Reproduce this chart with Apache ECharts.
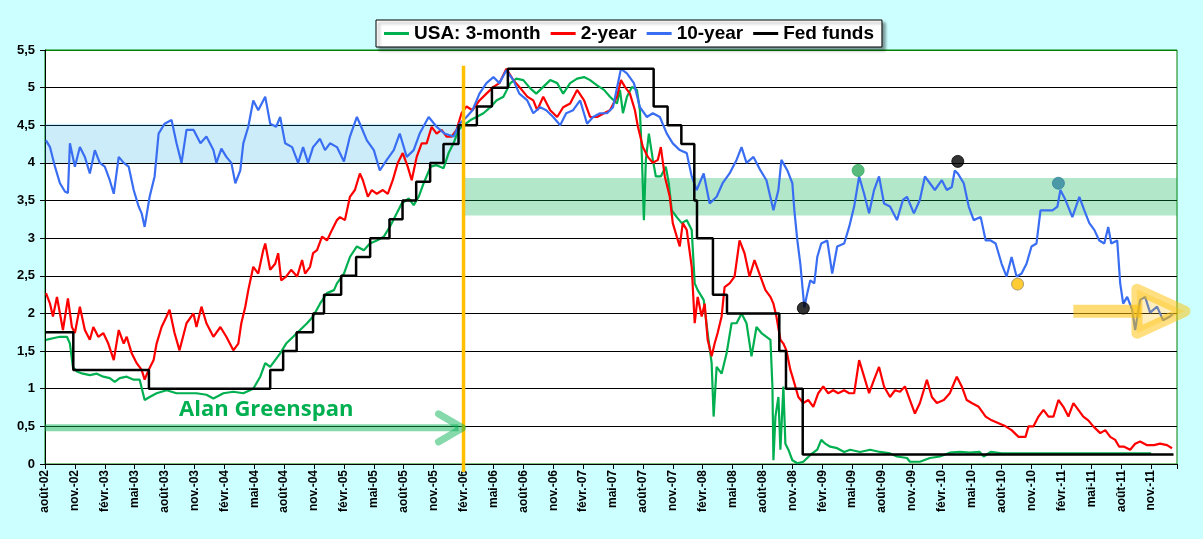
<!DOCTYPE html>
<html>
<head>
<meta charset="utf-8">
<title>USA taux</title>
<script src="https://cdn.jsdelivr.net/npm/echarts@6/dist/echarts.min.js"></script>
<style>
  html, body { margin: 0; padding: 0; background: #ccffff; }
  #main { width: 1203px; height: 539px; }
</style>
</head>
<body>
<div id="main"></div>
<script>
// x = mois écoulés depuis le 1er août 2002
var tickLabels = ['août-02','nov.-02','févr.-03','mai-03','août-03','nov.-03','févr.-04','mai-04',
  'août-04','nov.-04','févr.-05','mai-05','août-05','nov.-05','févr.-06','mai-06','août-06','nov.-06',
  'févr.-07','mai-07','août-07','nov.-07','févr.-08','mai-08','août-08','nov.-08','févr.-09','mai-09',
  'août-09','nov.-09','févr.-10','mai-10','août-10','nov.-10','févr.-11','mai-11','août-11','nov.-11'];

var seriesNames = ['USA: 3-month', '2-year', '10-year', 'Fed funds'];

var threeMonth = [[0.1,1.65],[0.8,1.67],[1.5,1.69],[2.2,1.69],[2.5,1.60],[2.8,1.29],[3.2,1.23],[3.8,1.20],
  [4.5,1.18],[5.2,1.20],[5.85,1.16],[6.5,1.14],[7,1.09],[7.5,1.14],[8.2,1.16],[8.9,1.12],[9.5,1.12],[10,0.85],
  [10.5,0.89],[11.2,0.94],[12.2,0.98],[13.2,0.94],[14.2,0.94],[15.2,0.94],[16.2,0.92],[16.9,0.87],[17.9,0.94],
  [18.9,0.96],[19.9,0.94],[20.9,1.0],[21.6,1.16],[22.1,1.34],[22.6,1.29],[23.1,1.38],[23.6,1.47],[24.2,1.60],
  [24.9,1.69],[25.6,1.78],[26.3,1.87],[26.9,1.96],[27.6,2.13],[28.3,2.27],[29,2.31],[29.3,2.40],[30,2.53],
  [30.6,2.75],[31.3,2.89],[32,2.84],[32.6,2.93],[33.3,2.97],[34,3.02],[34.6,3.15],[35.3,3.33],[35.8,3.46],
  [36.5,3.53],[37,3.44],[37.5,3.55],[38,3.73],[38.7,3.95],[39.3,3.97],[40,3.93],[40.5,4.13],[41,4.26],
  [41.5,4.44],[42,4.50],[42.7,4.57],[43.3,4.61],[44,4.66],[44.7,4.74],[45.3,4.83],[46,4.88],[46.7,5.06],
  [47.3,5.12],[48,5.10],[48.7,4.99],[49.3,4.92],[50,5.01],[50.7,5.10],[51.4,5.06],[52,4.92],[52.7,5.06],
  [53.4,5.12],[54.1,5.14],[54.7,5.10],[55.4,5.03],[56.1,4.97],[56.7,4.88],[57.4,4.79],[57.7,4.97],[58,4.66],
  [58.4,4.88],[58.9,5.01],[59.4,4.97],[59.7,4.70],[59.9,4.08],[60.1,3.24],[60.3,4.04],[60.6,4.39],[61,4.04],
  [61.3,3.82],[61.8,3.82],[62.3,3.95],[62.6,3.73],[62.9,3.37],[63.4,3.28],[63.9,3.20],[64.4,3.24],[64.9,3.11],
  [65.2,2.40],[65.5,2.31],[66.1,2.18],[66.5,1.74],[66.9,1.34],[67.1,0.63],[67.4,1.29],[67.9,1.20],[68.4,1.47],
  [68.9,1.87],[69.4,1.87],[69.9,2.0],[70.4,1.87],[70.9,1.43],[71.4,1.82],[71.9,1.74],[72.4,1.69],[72.8,1.65],
  [73,1.03],[73.1,0.05],[73.3,0.63],[73.6,0.89],[73.8,0.19],[74.1,1.03],[74.3,0.27],[74.6,0.19],[75,0.05],
  [75.5,0.01],[76.1,0.03],[76.8,0.12],[77.5,0.19],[77.9,0.32],[78.3,0.27],[78.8,0.23],[79.5,0.21],[80.2,0.16],
  [80.8,0.19],[81.8,0.16],[82.8,0.19],[83.8,0.16],[84.8,0.14],[85.5,0.10],[86.5,0.08],[86.8,0.03],[87.8,0.03],
  [88.8,0.08],[89.8,0.10],[90.8,0.15],[91.8,0.16],[92.8,0.15],[93.8,0.16],[94.2,0.10],[94.9,0.16],[96,0.14],
  [99,0.14],[102,0.14],[105,0.14],[108,0.14],[111,0.14]];

var twoYear = [[0.1,2.27],[0.5,2.13],[0.8,1.96],[1.2,2.22],[1.5,2.0],[1.8,1.78],[2.3,2.20],[2.7,1.82],[3,1.74],
  [3.5,2.09],[4,1.78],[4.5,1.65],[4.85,1.82],[5.35,1.69],[5.85,1.74],[6.35,1.60],[6.9,1.38],[7.4,1.78],[7.9,1.60],
  [8.2,1.69],[8.7,1.47],[9.2,1.34],[9.7,1.25],[10,1.12],[10.4,1.25],[10.9,1.38],[11.2,1.60],[11.7,1.82],
  [12.2,1.96],[12.5,2.05],[13,1.74],[13.5,1.51],[14.2,1.87],[14.9,2.0],[15.2,1.82],[15.7,2.09],[16.2,1.87],
  [16.9,1.69],[17.6,1.82],[18.2,1.69],[18.9,1.51],[19.4,1.60],[19.7,1.87],[20.1,2.09],[20.4,2.31],[20.9,2.62],
  [21.4,2.53],[21.9,2.84],[22.1,2.93],[22.6,2.58],[23.1,2.66],[23.4,2.80],[23.7,2.44],[24.2,2.49],[24.7,2.58],
  [25.3,2.49],[25.8,2.71],[26.1,2.53],[26.6,2.62],[26.9,2.80],[27.3,2.84],[27.8,3.02],[28.3,2.97],[28.8,3.11],
  [29.3,3.24],[29.6,3.28],[30.1,3.24],[30.6,3.55],[31.1,3.64],[31.6,3.86],[31.9,3.77],[32.4,3.55],[32.8,3.64],
  [33.3,3.59],[33.9,3.64],[34.4,3.59],[34.9,3.77],[35.4,4.0],[35.9,4.13],[36.4,3.95],[36.8,3.77],[37.3,4.08],
  [37.8,4.26],[38.3,4.26],[38.8,4.48],[39.3,4.39],[39.8,4.44],[40.3,4.35],[40.8,4.35],[41.3,4.44],[41.8,4.66],
  [42.3,4.75],[42.9,4.70],[43.6,4.83],[44.3,4.92],[45,5.01],[45.6,5.06],[46.3,5.25],[47,5.10],[47.6,5.01],
  [48.4,4.88],[49,4.83],[49.4,4.70],[50,4.88],[50.7,4.70],[51.4,4.61],[52,4.74],[52.7,4.79],[53.4,4.97],
  [54.1,4.83],[54.7,4.61],[55.4,4.61],[56.1,4.66],[56.7,4.70],[57.4,4.88],[57.8,5.10],[58.2,5.01],[58.7,4.92],
  [59.2,4.70],[59.5,4.48],[60,4.21],[60.5,4.08],[61,4.0],[61.5,4.04],[61.8,4.21],[62.2,3.82],[62.7,3.55],
  [63,3.20],[63.4,3.02],[63.7,2.89],[64,3.20],[64.4,3.11],[64.9,2.62],[65.2,1.87],[65.5,2.22],[65.9,1.96],
  [66.2,2.13],[66.5,1.65],[66.9,1.43],[67.2,1.60],[67.5,1.74],[67.9,1.96],[68.2,2.35],[68.7,2.40],[69.2,2.49],
  [69.7,2.97],[70.2,2.80],[70.7,2.49],[71.2,2.71],[71.8,2.49],[72.3,2.31],[72.8,2.22],[73.1,2.13],[73.4,1.96],
  [73.8,1.65],[74.1,1.60],[74.4,1.51],[74.8,1.25],[75.1,1.12],[75.6,0.89],[76.1,0.81],[76.6,0.85],[77.1,0.76],
  [77.6,0.94],[78.1,1.03],[78.6,0.94],[79.1,0.98],[79.6,0.94],[80.2,0.98],[80.7,0.94],[81.2,0.94],[81.7,1.38],
  [82.2,1.16],[82.7,0.94],[83.2,1.12],[83.7,1.29],[84.2,1.03],[84.8,0.89],[85.3,0.98],[85.8,0.96],[86.3,1.03],
  [86.8,0.85],[87.3,0.67],[87.8,0.81],[88.5,1.12],[89,0.89],[89.5,0.81],[90.2,0.85],[90.8,0.94],[91.5,1.16],
  [92,1.03],[92.5,0.85],[93,0.81],[93.7,0.76],[94.4,0.63],[95,0.58],[95.7,0.54],[96.4,0.50],[97,0.45],
  [97.7,0.36],[98.4,0.36],[98.7,0.50],[99.2,0.50],[99.7,0.63],[100.2,0.72],[100.7,0.63],[101.2,0.63],
  [101.7,0.85],[102.2,0.76],[102.7,0.63],[103.2,0.81],[103.7,0.72],[104.2,0.63],[104.7,0.58],[105.2,0.50],
  [105.9,0.41],[106.4,0.45],[106.9,0.36],[107.4,0.32],[107.8,0.23],[108.3,0.23],[108.9,0.19],[109.4,0.27],
  [109.9,0.30],[110.6,0.25],[111.3,0.25],[111.9,0.27],[112.6,0.25],[113.1,0.21]];

var tenYear = [[0.1,4.30],[0.5,4.21],[1,3.95],[1.5,3.73],[2,3.62],[2.3,3.6],[2.5,4.26],[3,3.95],[3.5,4.21],
  [4,4.08],[4.5,3.86],[5,4.17],[5.5,4.0],[6,3.95],[6.5,3.77],[6.9,3.59],[7.4,4.08],[7.9,4.0],[8.4,3.95],
  [8.9,3.64],[9.4,3.42],[9.7,3.33],[10,3.15],[10.5,3.55],[11,3.82],[11.4,4.39],[12,4.52],[12.7,4.57],
  [13.2,4.26],[13.7,4.0],[14.2,4.44],[14.9,4.44],[15.6,4.26],[16.2,4.35],[16.9,4.17],[17.2,4.0],[17.7,4.19],
  [18.2,4.08],[18.7,4.0],[19.1,3.73],[19.6,3.90],[19.9,4.26],[20.4,4.48],[20.9,4.83],[21.4,4.70],[22.1,4.88],
  [22.6,4.52],[23.2,4.48],[23.6,4.61],[24.1,4.26],[24.8,4.21],[25.4,4.0],[25.9,4.21],[26.4,4.0],[26.9,4.21],
  [27.6,4.32],[28.1,4.17],[28.6,4.26],[29.3,4.21],[30,4.02],[30.6,4.35],[31.3,4.61],[31.6,4.52],[32.3,4.30],
  [33,4.17],[33.6,3.90],[34.3,4.04],[35,4.17],[35.6,4.39],[36.3,4.08],[37,4.17],[37.6,4.39],[38.5,4.61],
  [39.3,4.48],[40.1,4.39],[41,4.35],[41.6,4.52],[42.3,4.61],[42.9,4.70],[43.6,4.92],[44.3,5.06],[45,5.14],
  [45.6,5.06],[46.3,5.23],[47,5.10],[47.6,4.92],[48.4,4.83],[49,4.66],[49.7,4.74],[50.3,4.70],[51,4.61],
  [51.7,4.50],[52.3,4.66],[53,4.70],[53.7,4.83],[54.4,4.52],[55,4.61],[55.7,4.66],[56.4,4.66],[57,4.74],
  [57.5,5.06],[57.8,5.25],[58.4,5.19],[59.1,5.06],[59.7,4.74],[60.4,4.61],[61,4.66],[61.7,4.61],[62.4,4.39],
  [63,4.26],[63.7,4.17],[64.4,4.13],[64.9,3.82],[65.4,3.64],[66.1,3.86],[66.7,3.46],[67.4,3.55],[68,3.73],
  [68.7,3.86],[69.4,4.04],[69.9,4.21],[70.4,4.0],[71.1,4.08],[71.8,3.90],[72.4,3.77],[73.1,3.37],[73.6,3.64],
  [73.9,4.04],[74.5,3.90],[75,3.73],[75.2,3.37],[75.5,2.97],[75.8,2.66],[76.2,2.08],[76.5,2.27],[76.8,2.44],
  [77.2,2.40],[77.5,2.75],[77.9,2.93],[78.5,2.97],[79,2.53],[79.5,2.89],[80.2,2.93],[80.7,3.15],[81.2,3.42],
  [81.7,3.82],[82.2,3.59],[82.7,3.33],[83.2,3.64],[83.7,3.82],[84.2,3.46],[84.8,3.42],[85.5,3.24],[86.1,3.51],
  [86.5,3.55],[87.2,3.33],[87.8,3.51],[88.3,3.82],[88.8,3.73],[89.3,3.64],[90,3.77],[90.5,3.64],[91,3.68],
  [91.3,3.90],[91.6,3.86],[92.2,3.73],[92.7,3.42],[93.2,3.24],[93.9,3.28],[94.4,2.97],[94.9,2.97],[95.4,2.93],
  [96,2.66],[96.5,2.49],[97,2.75],[97.5,2.49],[98,2.53],[98.5,2.66],[99,2.89],[99.5,2.93],[99.9,3.37],
  [100.4,3.37],[101.1,3.37],[101.6,3.42],[101.9,3.64],[102.4,3.51],[103.1,3.28],[103.8,3.55],[104.3,3.37],
  [104.8,3.20],[105.3,3.11],[105.8,2.97],[106.3,2.93],[106.7,3.15],[107,2.93],[107.6,2.97],[107.9,2.40],
  [108.2,2.13],[108.6,2.22],[109.1,2.05],[109.4,1.78],[109.9,2.18],[110.4,2.22],[110.9,2.01],[111.6,2.09],
  [112.2,1.91],[112.9,1.96],[113.2,2.0]];

// changements du taux directeur (le niveau tient jusqu'au point suivant)
var fedFunds = [[0.1,1.75],[2.84,1.25],[10.43,1.0],[22.6,1.25],[23.9,1.5],[25.25,1.75],[26.9,2.0],[28.0,2.25],
  [29.72,2.5],[31.22,2.75],[32.63,3.0],[34.57,3.25],[35.88,3.5],[37.25,3.75],[38.65,4.0],[39.99,4.25],
  [41.5,4.5],[43.34,4.75],[44.85,5.0],[46.45,5.25],[61.08,4.75],[62.48,4.5],[63.86,4.25],[65.16,3.5],
  [65.43,3.0],[67.03,2.25],[68.44,2.0],[73.69,1.5],[74.36,1.0],[76.04,0.125],[113.25,0.125]];

var dotPoints = [[76.1,2.07],[81.6,3.90],[91.6,4.02],[97.6,2.39],[101.7,3.73]];
var dotColors = ['#000000','#2eaa5c','#000000','#ffc000','#31859c'];

var FONT = 'Arial, "Liberation Sans", sans-serif';

var chart = echarts.init(document.getElementById('main'));

var splitColors = [];
for (var i = 0; i < 12; i++) splitColors.push(i === 11 ? '#008000' : '#000');

chart.setOption({
  animation: false,
  backgroundColor: '#ccffff',
  grid: {
    left: 45, right: 26, top: 50, bottom: 75,
    show: true, backgroundColor: '#ffffff', borderColor: '#008000', borderWidth: 1
  },
  legend: {
    data: seriesNames,
    left: 376, top: 20,
    icon: 'rect', itemWidth: 25, itemHeight: 3, itemGap: 10,
    padding: [4, 8, 4, 8],
    backgroundColor: '#ffffff', borderColor: '#000', borderWidth: 1,
    shadowColor: 'rgba(0,0,0,0.4)', shadowBlur: 3, shadowOffsetX: 3, shadowOffsetY: 3,
    textStyle: { fontFamily: FONT, fontWeight: 'bold', fontSize: 19, color: '#000' }
  },
  xAxis: {
    type: 'value', min: 0, max: 113.6, interval: 3,
    axisLine: { onZero: false, lineStyle: { color: '#000', width: 1 } },
    axisTick: { show: true, length: 5, lineStyle: { color: '#000' } },
    splitLine: { show: false },
    axisLabel: {
      rotate: 90, margin: 6, color: '#000', fontFamily: FONT, fontWeight: 'bold', fontSize: 12,
      formatter: function (v) {
        if (Math.abs(v / 3 - Math.round(v / 3)) > 1e-6) return '';
        return tickLabels[Math.round(v / 3)] || '';
      }
    }
  },
  yAxis: {
    type: 'value', min: 0, max: 5.5, interval: 0.5,
    axisLine: { show: true, lineStyle: { color: '#000', width: 1 } },
    axisTick: { show: true, length: 5, lineStyle: { color: '#000' } },
    splitLine: { show: true, lineStyle: { color: splitColors, width: 1 } },
    axisLabel: {
      margin: 10, color: '#000', fontFamily: FONT, fontWeight: 'bold', fontSize: 13,
      formatter: function (v) { return String(v).replace('.', ','); }
    }
  },
  series: [
    {
      // bandes de fond
      type: 'custom', name: 'bands', z: 1, silent: true,
      data: [[0, 42, 4.0, 4.52, 0], [42, 113.6, 3.3, 3.8, 1]],
      renderItem: function (params, api) {
        var p0 = api.coord([api.value(0), api.value(3)]);
        var p1 = api.coord([api.value(1), api.value(2)]);
        return {
          type: 'rect',
          shape: { x: p0[0], y: p0[1], width: p1[0] - p0[0], height: p1[1] - p0[1] },
          style: { fill: api.value(4) ? 'rgba(0,176,80,0.3)' : 'rgba(0,160,225,0.2)' }
        };
      }
    },
    {
      name: seriesNames[0], type: 'line', data: threeMonth, showSymbol: false, symbol: 'none',
      lineStyle: { color: '#00b050', width: 2.2 }, itemStyle: { color: '#00b050' }, z: 3
    },
    {
      name: seriesNames[1], type: 'line', data: twoYear, showSymbol: false, symbol: 'none',
      lineStyle: { color: '#ff0000', width: 2.2 }, itemStyle: { color: '#ff0000' }, z: 4
    },
    {
      name: seriesNames[2], type: 'line', data: tenYear, showSymbol: false, symbol: 'none',
      lineStyle: { color: '#3a6ef2', width: 2.2 }, itemStyle: { color: '#3a6ef2' }, z: 5
    },
    {
      name: seriesNames[3], type: 'line', data: fedFunds, step: 'end', showSymbol: false, symbol: 'none',
      lineStyle: { color: '#000000', width: 2.5 }, itemStyle: { color: '#000000' }, z: 6
    },
    {
      name: 'points', type: 'scatter', z: 8, symbolSize: 12,
      data: dotPoints.map(function (p, i) {
        return { value: p, itemStyle: { color: dotColors[i], borderColor: i === 3 ? '#9a8a60' : dotColors[i], borderWidth: 1 } };
      })
    },
    {
      // ligne orange (fin du mandat Greenspan)
      type: 'custom', name: 'greenspanEnd', z: 9, silent: true, clip: false,
      data: [[42, 5.29]],
      renderItem: function (params, api) {
        var a = api.coord([api.value(0), api.value(1)]);
        var b = api.coord([api.value(0), 0]);
        return { type: 'line', shape: { x1: a[0], y1: a[1], x2: b[0], y2: b[1] + 8 },
          style: { stroke: '#ffc000', lineWidth: 3.5 } };
      }
    },
    {
      // flèche verte + texte
      type: 'custom', name: 'greenspanArrow', z: 10, silent: true, clip: false,
      data: [[0, 42, 0.48]],
      renderItem: function (params, api) {
        var a = api.coord([api.value(0), api.value(2)]);
        var b = api.coord([api.value(1), api.value(2)]);
        var t = api.coord([22.2, 0.72]);
        var col = 'rgba(0,176,80,0.48)';
        return { type: 'group', children: [
          { type: 'line', shape: { x1: a[0], y1: a[1], x2: b[0] - 5, y2: b[1] }, style: { stroke: col, lineWidth: 7 } },
          { type: 'polyline', shape: { points: [[b[0] - 25, b[1] - 14], [b[0] - 1, b[1]], [b[0] - 25, b[1] + 14]] },
            style: { stroke: col, lineWidth: 7, lineCap: 'round', lineJoin: 'round', fill: null } },
          { type: 'text', x: t[0], y: t[1],
            style: { text: 'Alan Greenspan', fill: '#00b050', font: 'bold 22px "Open Sans", sans-serif',
              align: 'center', verticalAlign: 'middle' } }
        ] };
      }
    },
    {
      // flèche jaune à droite
      type: 'custom', name: 'rightArrow', z: 10, silent: true, clip: false,
      data: [[103.2, 114.8, 2.03]],
      renderItem: function (params, api) {
        var a = api.coord([api.value(0), api.value(2)]);
        var tip = api.coord([api.value(1), api.value(2)]);
        var bx = tip[0] - 52;
        return { type: 'group', children: [
          { type: 'rect', shape: { x: a[0], y: a[1] - 6.5, width: bx - a[0] + 4, height: 13 },
            style: { fill: 'rgba(255,192,0,0.55)' } },
          { type: 'polygon', shape: { points: [[bx, tip[1] - 22], [tip[0] - 4, tip[1]], [bx, tip[1] + 22]] },
            style: { fill: 'rgba(255,192,0,0.25)', stroke: 'rgba(255,192,0,0.5)', lineWidth: 11, lineJoin: 'round' } }
        ] };
      }
    }
  ]
});
</script>
</body>
</html>
